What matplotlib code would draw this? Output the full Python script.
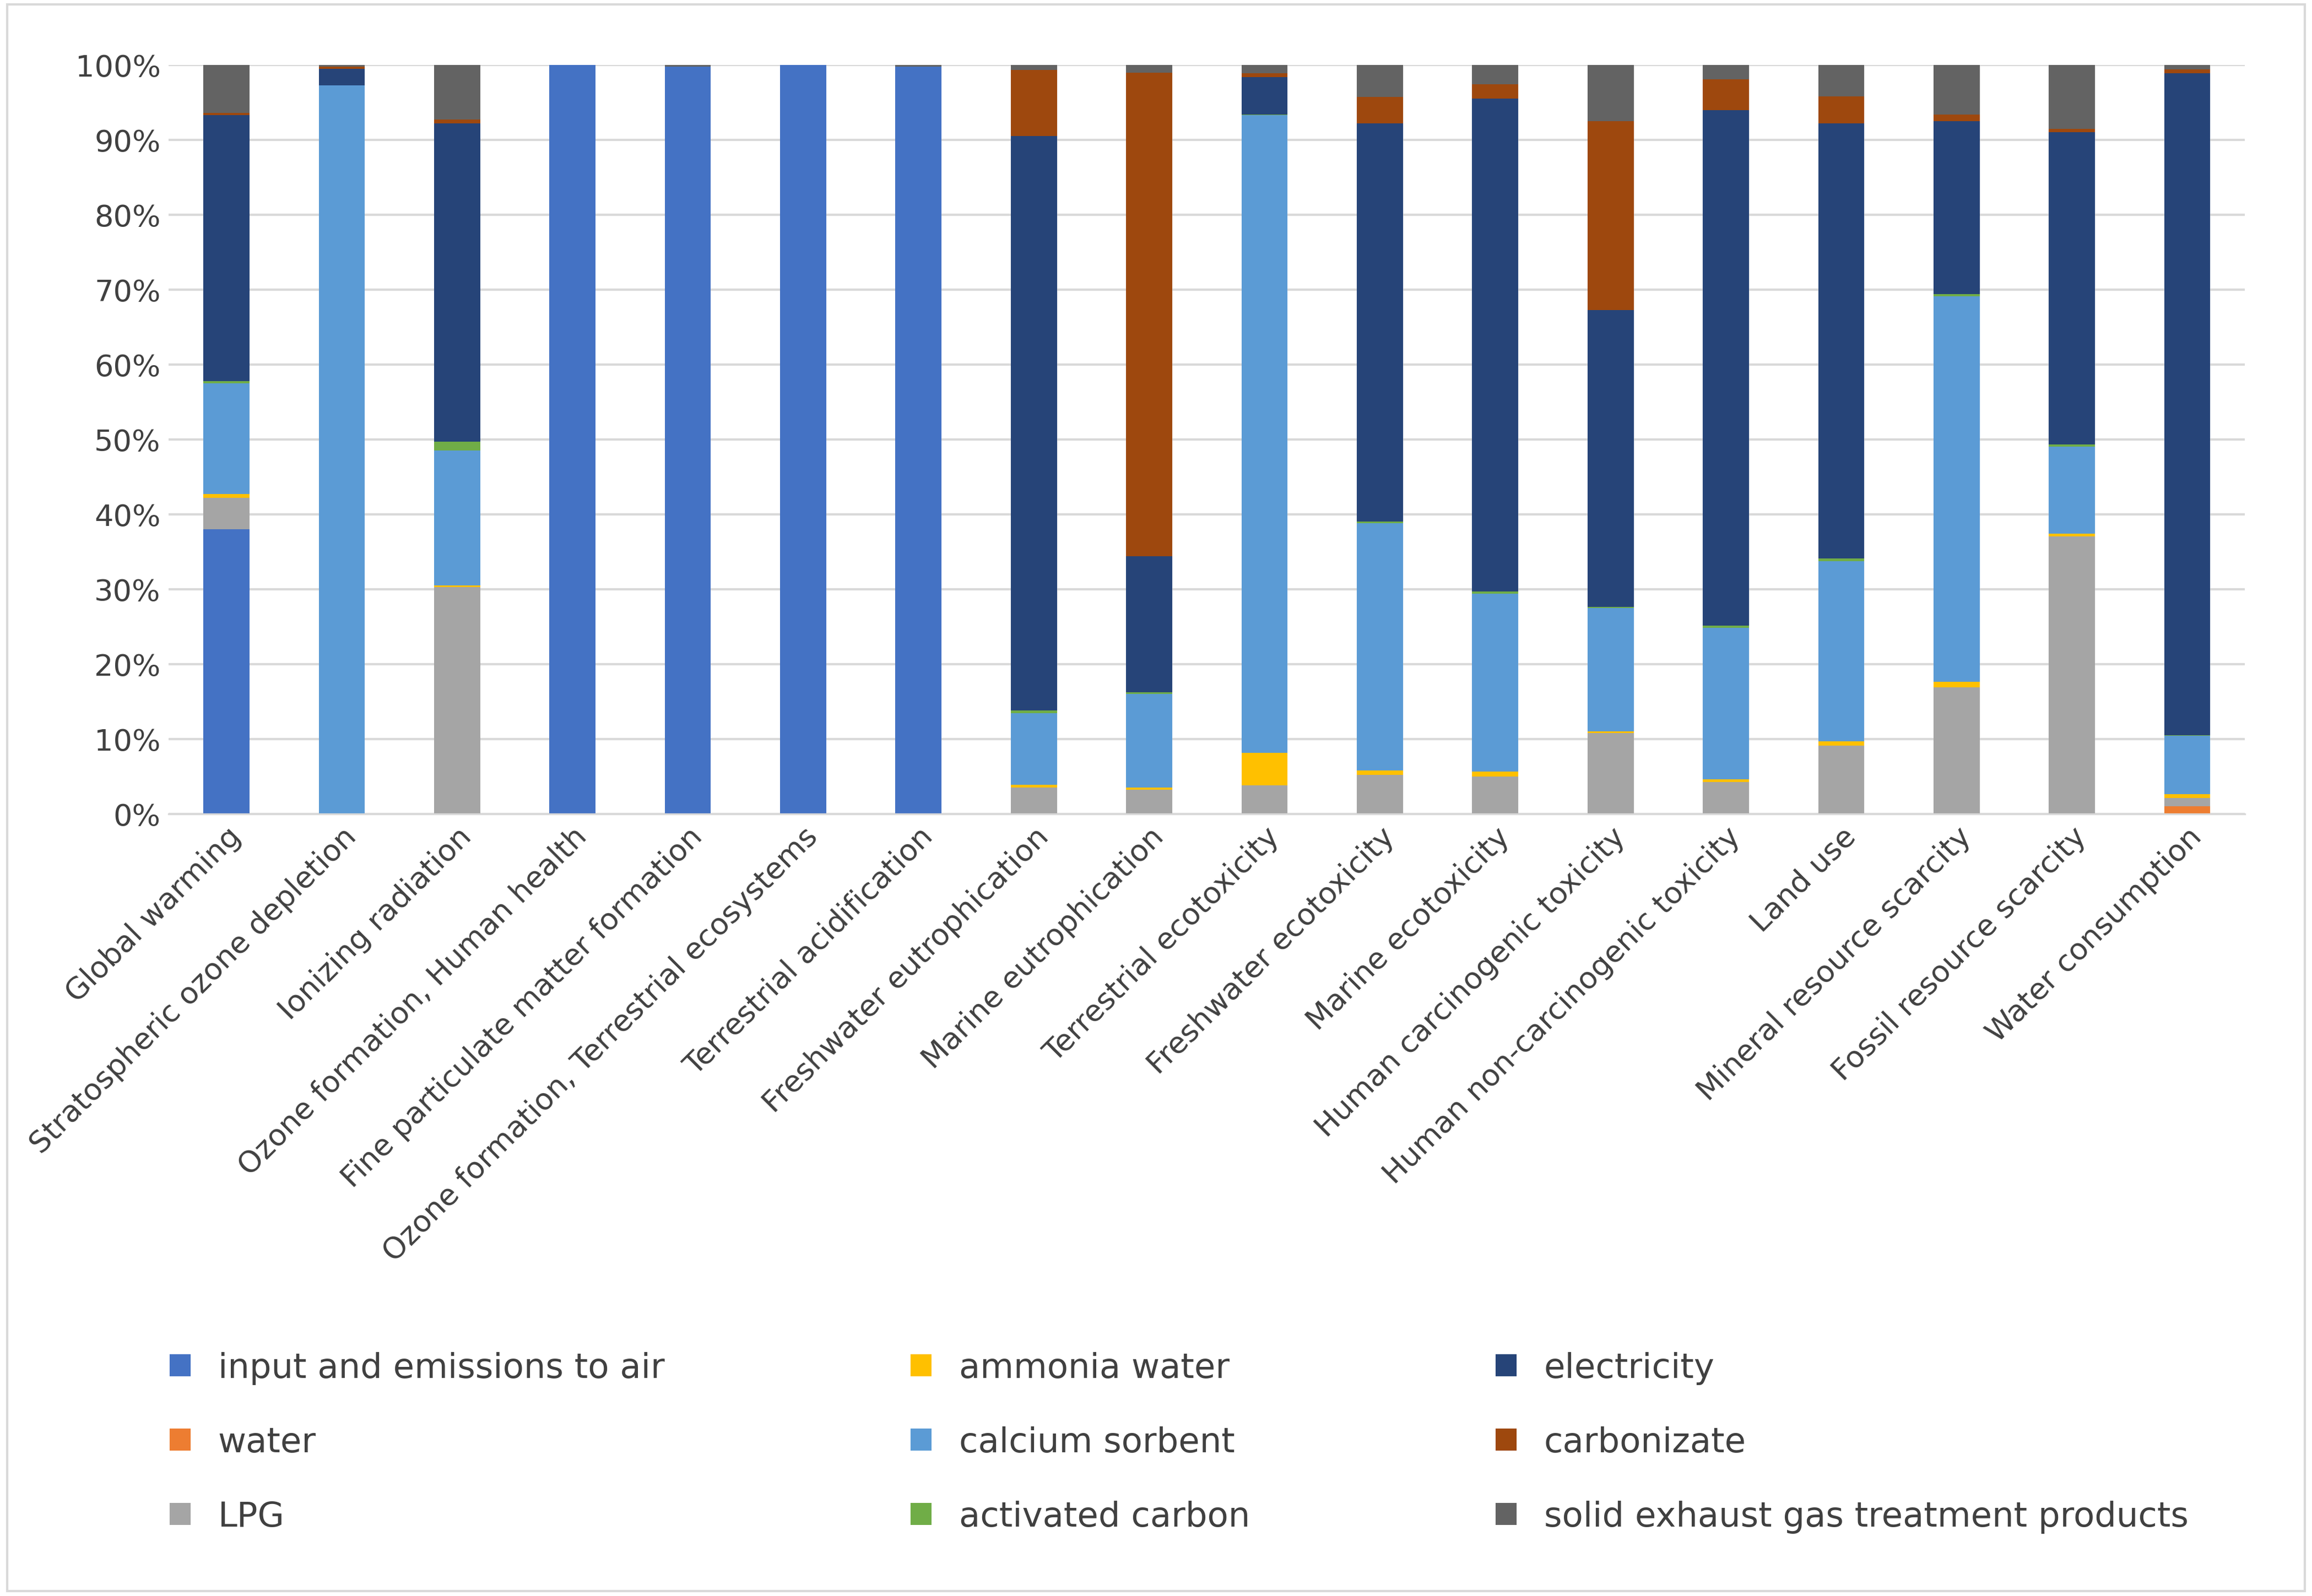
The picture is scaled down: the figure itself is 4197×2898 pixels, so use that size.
import matplotlib.pyplot as plt
import numpy as np
from matplotlib.patches import Rectangle

categories = ['Global warming', 'Stratospheric ozone depletion', 'Ionizing radiation',
              'Ozone formation, Human health', 'Fine particulate matter formation',
              'Ozone formation, Terrestrial ecosystems', 'Terrestrial acidification',
              'Freshwater eutrophication', 'Marine eutrophication', 'Terrestrial ecotoxicity',
              'Freshwater ecotoxicity', 'Marine ecotoxicity', 'Human carcinogenic toxicity',
              'Human non-carcinogenic toxicity', 'Land use', 'Mineral resource scarcity',
              'Fossil resource scarcity', 'Water consumption']

series_names = ['input and emissions to air', 'water', 'LPG', 'ammonia water', 'calcium sorbent',
                'activated carbon', 'electricity', 'carbonizate', 'solid exhaust gas treatment products']

air = [38, 0, 0, 100, 99.8, 100, 99.8, 0, 0, 0, 0, 0, 0, 0, 0, 0, 0, 0]
water = [0, 0, 0, 0, 0, 0, 0, 0, 0, 0, 0, 0, 0, 0, 0, 0, 0, 1.0]
lpg = [4.2, 0, 30.3, 0, 0, 0, 0, 3.5, 3.2, 3.8, 5.2, 5.0, 10.8, 4.2, 9.1, 16.9, 37.0, 1.1]
ammonia = [0.5, 0, 0.2, 0, 0, 0, 0, 0.4, 0.3, 4.3, 0.6, 0.6, 0.2, 0.4, 0.6, 0.7, 0.4, 0.5]
calcium = [14.8, 97.3, 18.0, 0, 0, 0, 0, 9.5, 12.5, 85.2, 33.0, 23.8, 16.5, 20.2, 24.0, 51.5, 11.6, 7.8]
activated = [0.3, 0, 1.2, 0, 0, 0, 0, 0.4, 0.2, 0.1, 0.2, 0.3, 0.1, 0.3, 0.4, 0.3, 0.3, 0.1]
electricity = [35.5, 2.2, 42.5, 0, 0, 0, 0, 76.7, 18.2, 5.0, 53.2, 65.8, 39.7, 68.9, 58.1, 23.1, 41.7, 88.4]
carbonizate = [0.3, 0.3, 0.5, 0, 0, 0, 0, 8.8, 64.6, 0.5, 3.5, 1.9, 25.2, 4.1, 3.6, 0.9, 0.5, 0.5]
solid = [6.4, 0.2, 7.3, 0, 0.2, 0, 0.2, 0.7, 1.0, 1.1, 4.3, 2.6, 7.5, 1.9, 4.2, 6.6, 8.5, 0.6]

colors = ['#4472C4', '#ED7D31', '#A5A5A5', '#FFC000', '#5B9BD5', '#70AD47', '#264478', '#9E480E', '#636363']

data = np.array([air, water, lpg, ammonia, calcium, activated, electricity, carbonizate, solid], dtype=float)
data = data / data.sum(axis=0) * 100

fig = plt.figure(figsize=(13.99, 9.663), dpi=300)
fig.patches.append(Rectangle((0.003, 0.003), 0.994, 0.994, transform=fig.transFigure,
                             fill=False, edgecolor='#D9D9D9', linewidth=1))
ax = fig.add_axes([0.073, 0.49, 0.898, 0.469])
x = np.arange(len(categories))
bottom = np.zeros(len(categories))
handles = []
for vals, name, c in zip(data, series_names, colors):
    h = ax.bar(x, vals, 0.4, bottom=bottom, color=c, label=name)
    handles.append(h)
    bottom += vals

ax.set_ylim(0, 100)
ax.set_xlim(-0.5, len(categories) - 0.5)
ax.set_yticks(np.arange(0, 101, 10))
ax.set_yticklabels([f'{v}%' for v in range(0, 101, 10)], fontsize=13, color='#404040')
ax.set_xticks(x)
ax.set_xticklabels(categories, rotation=45, ha='right', rotation_mode='anchor', fontsize=13, color='#404040')
ax.grid(axis='y', color='#D9D9D9', linewidth=1)
ax.set_axisbelow(True)
for s in ['top', 'right', 'left']:
    ax.spines[s].set_visible(False)
ax.spines['bottom'].set_color('#D9D9D9')
ax.tick_params(length=0)

fig.legend(handles=handles, labels=series_names, loc='lower left', bbox_to_anchor=(0.06, 0.02, 0.9, 0.17),
           mode='expand', ncol=3, frameon=False, fontsize=15, handlelength=0.6, handleheight=0.6,
           labelspacing=1.2, columnspacing=2, labelcolor='#404040')

fig.savefig('out.png', dpi=300)
